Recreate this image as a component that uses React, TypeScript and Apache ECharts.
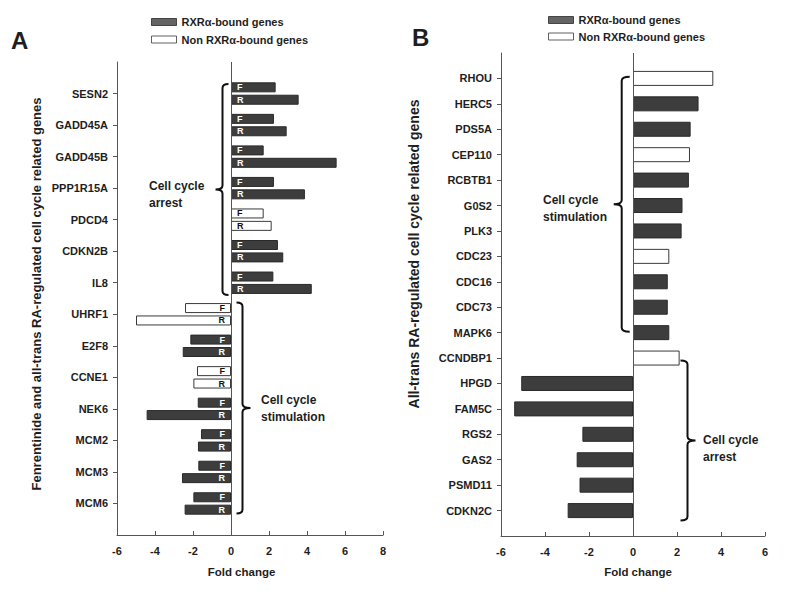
import React, { useEffect, useRef } from "react";
import * as echarts from "echarts";

// ---------- Data ----------
const genesA = ["SESN2", "GADD45A", "GADD45B", "PPP1R15A", "PDCD4", "CDKN2B", "IL8", "UHRF1", "E2F8", "CCNE1", "NEK6", "MCM2", "MCM3", "MCM6"];
const fenretinideA = [2.35, 2.26, 1.72, 2.26, 1.72, 2.47, 2.23, -2.42, -2.14, -1.79, -1.75, -1.58, -1.72, -1.98];
const retinoicA = [3.56, 2.93, 5.56, 3.89, 2.14, 2.75, 4.25, -5.0, -2.54, -1.98, -4.44, -1.74, -2.58, -2.44];
const boundA = [1, 1, 1, 1, 0, 1, 1, 0, 1, 0, 1, 1, 1, 1];

const genesB = ["RHOU", "HERC5", "PDS5A", "CEP110", "RCBTB1", "G0S2", "PLK3", "CDC23", "CDC16", "CDC73", "MAPK6", "CCNDBP1", "HPGD", "FAM5C", "RGS2", "GAS2", "PSMD11", "CDKN2C"];
const foldB = [3.65, 2.98, 2.62, 2.59, 2.54, 2.25, 2.21, 1.65, 1.58, 1.58, 1.65, 2.12, -5.08, -5.4, -2.3, -2.56, -2.43, -2.97];
const boundB = [0, 1, 1, 0, 1, 1, 1, 0, 1, 1, 1, 0, 1, 1, 1, 1, 1, 1];

const legendNames = ["RXRα-bound genes", "Non RXRα-bound genes"];
const xRangeA = { min: -6, max: 8, interval: 2 };
const xRangeB = { min: -6, max: 6, interval: 2 };

// ---------- Styles ----------
const FONT = 'Arial, "Liberation Sans", Helvetica, sans-serif';
const TXT = "#1e1e1e";
const AX = "#555";
const DARK = "#3d3d3d";
const DARK_BORDER = "#2a2a2a";
const WHITE_BORDER = "#3a3a3a";

function bracePath(h: number, hook: number, tip: number, dir: number) {
  const r = 4;
  const m = h / 2;
  return `M ${dir * hook} 0 Q 0 0 0 ${r} L 0 ${m - r} Q 0 ${m} ${-dir * tip} ${m} Q 0 ${m} 0 ${m + r} L 0 ${h - r} Q 0 ${h} ${dir * hook} ${h}`;
}

const braces = [
  { name: "braceA1", x: 222.5, y: 84, h: 211, hook: 6, tip: 7, dir: 1 },
  { name: "braceA2", x: 242.5, y: 302.5, h: 211, hook: 6, tip: 8, dir: -1 },
  { name: "braceB1", x: 621.7, y: 76.7, h: 255, hook: 8, tip: 8, dir: 1 },
  { name: "braceB2", x: 687.5, y: 360.5, h: 160, hook: 7, tip: 8, dir: -1 },
];
braces.forEach((b) => {
  echarts.graphic.registerShape(b.name, echarts.graphic.extendPath(bracePath(b.h, b.hook, b.tip, b.dir), {}) as any);
});

function barItems(values: number[], bound: number[]) {
  const items = values.map((v, i) => ({
    value: v,
    itemStyle: bound[i]
      ? { color: DARK, borderColor: DARK_BORDER, borderWidth: 1 }
      : { color: "#ffffff", borderColor: WHITE_BORDER, borderWidth: 1 },
    label: { position: v >= 0 ? "insideLeft" : "insideRight", color: bound[i] ? "#ffffff" : "#111" },
  }));
  return [null, ...items, null];
}

function text(t: string, x: number, y: number, size: number, extra: any = {}) {
  const { align, lineHeight, ...rest } = extra;
  return {
    type: "text",
    x,
    y,
    silent: true,
    ...rest,
    style: {
      text: t,
      fontSize: size,
      fontWeight: "bold",
      fontFamily: FONT,
      fill: TXT,
      textAlign: align || "left",
      align: align || "left",
      textVerticalAlign: "middle",
      verticalAlign: "middle",
      lineHeight: lineHeight || size + 2,
    },
  };
}

const zeroLine = {
  silent: true,
  symbol: ["none", "none"],
  label: { show: false },
  lineStyle: { color: AX, width: 1, type: "solid" },
  data: [{ xAxis: 0 }],
};

function xAxisCfg(gridIndex: number, r: any) {
  return {
    gridIndex,
    type: "value",
    min: r.min,
    max: r.max,
    interval: r.interval,
    axisLine: { show: true, onZero: false, lineStyle: { color: AX, width: 1 } },
    axisTick: { show: true, inside: true, length: 4, lineStyle: { color: AX } },
    splitLine: { show: false },
    axisLabel: { fontSize: 11, fontWeight: "bold", color: TXT, margin: 10, fontFamily: FONT },
  };
}

function yAxisCfg(gridIndex: number, genes: string[]) {
  const n = genes.length + 2;
  return {
    gridIndex,
    type: "category",
    data: ["", ...genes, ""],
    inverse: true,
    boundaryGap: false,
    axisLine: { show: true, onZero: false, lineStyle: { color: AX, width: 1 } },
    axisTick: { show: true, length: 4, interval: (i: number) => i > 0 && i < n - 1, lineStyle: { color: AX } },
    splitLine: { show: false },
    axisLabel: { interval: 0, fontSize: 11, fontWeight: "bold", color: TXT, margin: 9, fontFamily: FONT },
  };
}

const barLabel = (t: string) => ({
  show: true,
  formatter: t,
  fontSize: 9,
  fontWeight: "bold",
  fontFamily: FONT,
  distance: 6,
});

function legendCfg(left: number, top: number, gap: number) {
  return {
    left,
    top,
    padding: 0,
    orient: "vertical",
    icon: "rect",
    itemWidth: 25,
    itemHeight: 7,
    itemGap: gap,
    selectedMode: false,
    textStyle: { fontSize: 11, fontWeight: "bold", color: TXT, fontFamily: FONT, lineHeight: 13 },
    data: [
      { name: legendNames[0], itemStyle: { color: DARK, borderColor: DARK_BORDER, borderWidth: 1 } },
      { name: legendNames[1], itemStyle: { color: "#ffffff", borderColor: WHITE_BORDER, borderWidth: 1 } },
    ],
  };
}

export default function App() {
  const ref = useRef<HTMLDivElement>(null);
  useEffect(() => {
    if (!ref.current) return;
    const chart = echarts.init(ref.current, null, { renderer: "svg" });
    const option: any = {
      animation: false,
      backgroundColor: "#ffffff",
      textStyle: { fontFamily: FONT },
      grid: [
        { left: 117, right: 800 - 383, top: 62, bottom: 591 - 535 },
        { left: 501, right: 800 - 765, top: 53, bottom: 591 - 536 },
      ],
      xAxis: [xAxisCfg(0, xRangeA), xAxisCfg(1, xRangeB)],
      yAxis: [yAxisCfg(0, genesA), yAxisCfg(1, genesB)],
      legend: [legendCfg(151, 15.5, 4.5), legendCfg(548, 13.5, 3.5)],
      series: [
        {
          type: "bar",
          name: "F",
          xAxisIndex: 0,
          yAxisIndex: 0,
          barWidth: 10,
          barGap: "24%",
          data: barItems(fenretinideA, boundA),
          label: barLabel("F"),
          markLine: zeroLine,
        },
        {
          type: "bar",
          name: "R",
          xAxisIndex: 0,
          yAxisIndex: 0,
          barWidth: 10,
          barGap: "24%",
          data: barItems(retinoicA, boundA),
          label: barLabel("R"),
        },
        {
          type: "bar",
          name: "B",
          xAxisIndex: 1,
          yAxisIndex: 1,
          barWidth: 15,
          data: barItems(foldB, boundB),
          markLine: zeroLine,
        },
        { type: "scatter", name: legendNames[0], xAxisIndex: 0, yAxisIndex: 0, data: [], itemStyle: { color: DARK } },
        { type: "scatter", name: legendNames[1], xAxisIndex: 0, yAxisIndex: 0, data: [], itemStyle: { color: "#ffffff" } },
      ],
      graphic: [
        text("A", 11, 40, 24),
        text("B", 412, 37.5, 24),
        text("Fenrentinide and all-trans RA-regulated cell cycle related genes", 36, 294, 13, { rotation: Math.PI / 2, align: "center" }),
        text("All-trans RA-regulated cell cycle related genes", 414, 254, 14, { rotation: Math.PI / 2, align: "center" }),
        text("Fold change", 241.5, 572, 11.5, { align: "center" }),
        text("Fold change", 638, 572, 11.5, { align: "center" }),
        text("Cell cycle\narrest", 149, 194.5, 12, { lineHeight: 17 }),
        text("Cell cycle\nstimulation", 261, 408.5, 12, { lineHeight: 17 }),
        text("Cell cycle\nstimulation", 543, 208.5, 12, { lineHeight: 17 }),
        text("Cell cycle\narrest", 703, 448.5, 12, { lineHeight: 17 }),
        ...braces.map((b) => ({
          type: b.name,
          x: b.x,
          y: b.y,
          silent: true,
          style: { stroke: "#111", lineWidth: 2, fill: "none" },
        })),
      ],
    };
    chart.setOption(option);
    return () => chart.dispose();
  }, []);
  return <div ref={ref} style={{ position: "fixed", left: 0, top: 0, width: 800, height: 591 }} />;
}
